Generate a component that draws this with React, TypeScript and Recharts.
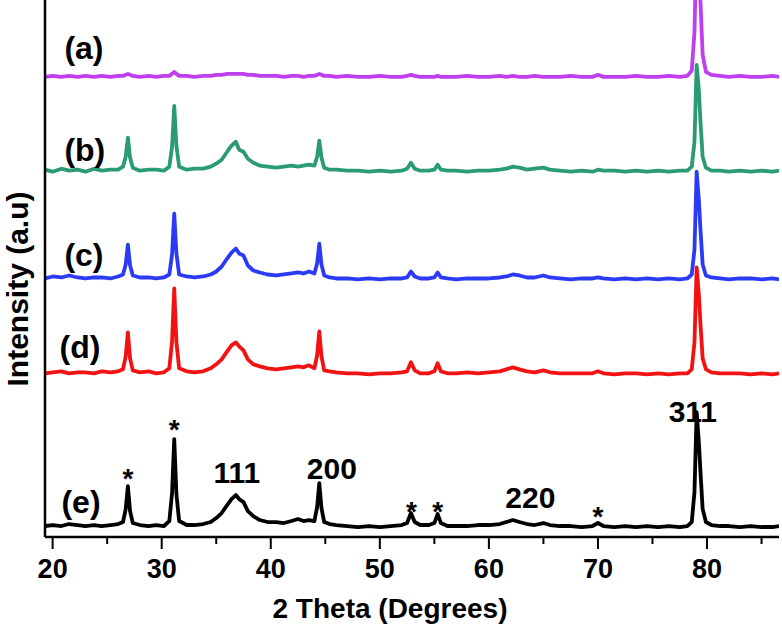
import React from 'react';
import { LineChart, Line, XAxis, YAxis, ReferenceDot, Label } from 'recharts';

// 2θ sample positions (degrees)
const twoTheta = [
  19.3, 20, 20.8, 21.5, 22.3, 23, 23.8, 24.5, 25.3, 26,
  26.45, 26.7, 26.9, 27.1, 27.35,
  28, 28.8, 29.5, 30.2,
  30.7, 30.95, 31.15, 31.35, 31.6,
  32.3, 33, 33.8, 34.5, 35, 35.5, 36,
  36.4, 36.8, 37.1, 37.5, 37.9, 38.4, 39,
  39.7, 40.5, 41.2, 41.9, 42.5, 43, 43.5,
  44, 44.25, 44.45, 44.65, 44.9,
  45.4, 46, 47, 48, 49, 50, 51, 52,
  52.5, 52.85, 53.2, 53.7, 54.5,
  55, 55.3, 55.6, 56.2,
  57, 58, 59, 60, 61,
  61.6, 62.2, 62.8, 63.5, 64.2, 65,
  65.6, 66.5, 67.5, 68.5, 69.5, 70, 70.5,
  71.5, 72.5, 73.5, 74.5, 75.5, 76.5, 77.5, 78.2,
  78.6, 78.85, 79.05, 79.25, 79.4, 79.6, 79.9,
  80.4, 81.2, 82, 83, 84, 85, 86, 86.6,
];

// intensities above each pattern's own baseline (a.u.)
const intensityA = [
  0, 1, 0, 1, 0, 1, 0, 1, 0, 1,
  1, 2, 3, 2, 1,
  0, 1, 0, 1,
  1, 3, 5, 3, 1,
  1, 0, 1, 1, 2, 2, 3,
  3, 3, 3, 3, 2, 2, 1,
  1, 1, 0, 1, 1, 0, 1,
  1, 2, 3, 2, 1,
  1, 0, 1, 0, 0, 1, 0, 0,
  1, 2, 1, 0, 0,
  0, 1, 0, 0,
  0, 1, 0, 0, 1,
  0, 1, 0, 0, 1, 0,
  0, 0, 1, 0, 0, 2, 0,
  0, 0, 1, 0, 0, 1, 0, 1,
  6, 45, 140, 125, 75, 22, 5,
  2, 1, 0, 1, 0, 0, 1, 0,
];

const intensityB = [
  2, 0, 3, 1, 2, 0, 3, 1, 2, 2,
  5, 15, 34, 14, 4,
  1, 2, 2, 1,
  5, 25, 66, 26, 5,
  2, 3, 3, 5, 8, 12, 20,
  26, 30, 22, 20, 13, 9, 6,
  5, 4, 5, 6, 5, 6, 7,
  6, 15, 31, 14, 4,
  2, 2, 1, 1, 0, 1, 0, 1,
  3, 9, 3, 1, 1,
  2, 7, 2, 1,
  1, 0, 1, 1, 2,
  3, 5, 4, 2, 3, 4,
  2, 1, 0, 1, 0, 2, 1,
  1, 0, 1, 0, 1, 0, 1, 1,
  5, 30, 107, 82, 50, 15, 4,
  1, 1, 0, 1, 0, 1, 0, 1,
];

const intensityC = [
  1, 3, 2, 4, 2, 1, 2, 2, 1, 3,
  5, 15, 35, 14, 4,
  2, 2, 1, 2,
  5, 25, 66, 26, 5,
  3, 2, 3, 5, 8, 13, 21,
  27, 31, 26, 24, 14, 9, 7,
  5, 4, 5, 6, 7, 6, 8,
  6, 16, 36, 15, 4,
  2, 1, 1, 0, 1, 0, 1, 1,
  2, 8, 3, 1, 1,
  2, 7, 2, 1,
  0, 1, 1, 1, 2,
  3, 5, 4, 2, 2, 4,
  2, 1, 0, 1, 1, 2, 1,
  0, 1, 0, 1, 0, 1, 0, 1,
  5, 30, 108, 80, 50, 15, 4,
  2, 1, 0, 1, 1, 0, 1, 0,
];

const intensityD = [
  1, 2, 3, 1, 2, 2, 1, 3, 2, 3,
  5, 18, 42, 16, 4,
  2, 3, 1, 2,
  6, 33, 86, 32, 6,
  3, 2, 3, 6, 10, 15, 23,
  29, 32, 28, 24, 15, 10, 8,
  6, 5, 6, 7, 8, 7, 9,
  6, 19, 43, 18, 4,
  3, 2, 1, 1, 0, 1, 1, 2,
  3, 12, 4, 1, 1,
  3, 11, 3, 1,
  1, 2, 1, 2, 3,
  5, 7, 5, 3, 2, 4,
  2, 1, 1, 1, 1, 3, 1,
  0, 1, 1, 0, 1, 0, 1, 1,
  5, 32, 107, 80, 50, 16, 5,
  2, 1, 1, 1, 0, 1, 0, 1,
];

const intensityE = [
  1, 2, 1, 3, 2, 1, 2, 1, 2, 3,
  5, 18, 41, 16, 4,
  2, 1, 2, 1,
  6, 34, 88, 33, 6,
  2, 2, 3, 5, 9, 14, 22,
  28, 32, 28, 25, 16, 11, 7,
  5, 5, 4, 6, 8, 6, 7,
  6, 20, 44, 19, 5,
  3, 2, 1, 0, 1, 0, 1, 2,
  4, 14, 5, 2, 2,
  4, 13, 4, 1,
  1, 1, 2, 2, 3,
  5, 7, 5, 3, 2, 4,
  2, 1, 1, 0, 1, 4, 1,
  0, 1, 0, 1, 0, 1, 0, 1,
  5, 35, 115, 85, 55, 18, 5,
  2, 1, 1, 0, 1, 0, 0, 1,
];

const seriesKeys = ['a', 'b', 'c', 'd', 'e'];
const seriesNames = ['(a)', '(b)', '(c)', '(d)', '(e)'];
const baselineOffsets = [455, 360, 252, 157, 4];
const seriesIntensities = [intensityA, intensityB, intensityC, intensityD, intensityE];
const seriesColors = ['#BF3FEF', '#2A9B74', '#2B3BF5', '#F21212', '#000000'];

const xTicks = [20, 25, 30, 35, 40, 45, 50, 55, 60, 65, 70, 75, 80, 85];
const yTicks = [0, 120, 240, 360, 480];

// annotations (data coordinates of text baselines)
const seriesLabelX = [22.87, 22.95, 22.87, 22.5, 22.6];
const seriesLabelY = [473, 371, 266, 173, 18];
const starX = [26.9, 31.15, 52.9, 55.3, 70];
const starY = [43, 92, 10, 10, 5];
const hklText = ['111', '200', '220', '311'];
const hklX = [36.9, 45.6, 63.8, 78.7];
const hklY = [48, 52, 23, 109];

const data = twoTheta.map((t, i) => {
  const row: Record<string, number> = { t };
  seriesKeys.forEach((k, s) => {
    row[k] = baselineOffsets[s] + seriesIntensities[s][i];
  });
  return row;
});

const FONT = "'Liberation Sans', Arial, Helvetica, sans-serif";

const XTick = (props: any) => {
  const { x, y, payload } = props;
  const major = payload.value % 10 === 0;
  return (
    <g>
      <line x1={x} x2={x} y1={y} y2={y + (major ? 12 : 7)} stroke="#000" strokeWidth={2} />
      {major && (
        <text x={x} y={y + 41} textAnchor="middle" fontFamily={FONT} fontWeight="bold" fontSize={27} fill="#000">
          {payload.value}
        </text>
      )}
    </g>
  );
};

const textShape = (txt: string, size: number) => (p: any) => (
  <text x={p.cx} y={p.cy} textAnchor="middle" fontFamily={FONT} fontWeight="bold" fontSize={size} fill="#000">
    {txt}
  </text>
);

export default function App() {
  return (
    <div style={{ position: 'absolute', left: 0, top: 0, background: '#fff' }}>
      <LineChart width={782} height={631} data={data} margin={{ top: 0, right: 3, bottom: 0, left: 0 }}>
        <XAxis
          dataKey="t"
          type="number"
          domain={[19.3, 86.6]}
          allowDataOverflow
          ticks={xTicks}
          interval={0}
          height={94}
          tickSize={0}
          tickMargin={0}
          tickLine={false}
          axisLine={{ stroke: '#000', strokeWidth: 2.5 }}
          tick={<XTick />}
        >
          <Label
            content={() => (
              <text x={390} y={618} textAnchor="middle" fontFamily={FONT} fontWeight="bold" fontSize={28} fill="#000">
                2 Theta (Degrees)
              </text>
            )}
          />
        </XAxis>
        <YAxis
          type="number"
          domain={[-6, 532]}
          allowDataOverflow
          ticks={yTicks}
          interval={0}
          width={45}
          tickSize={11}
          tick={false}
          tickLine={{ stroke: '#000', strokeWidth: 2 }}
          axisLine={{ stroke: '#000', strokeWidth: 2.5 }}
        >
          <Label
            content={() => (
              <text
                x={28}
                y={289}
                transform="rotate(-90, 28, 289)"
                textAnchor="middle"
                fontFamily={FONT}
                fontWeight="bold"
                fontSize={30}
                fill="#000"
              >
                Intensity (a.u)
              </text>
            )}
          />
        </YAxis>
        {seriesKeys.map((k, s) => (
          <Line
            key={k}
            dataKey={k}
            type="linear"
            stroke={seriesColors[s]}
            strokeWidth={3.8}
            strokeLinejoin="round"
            dot={false}
            activeDot={false}
            isAnimationActive={false}
          />
        ))}
        {seriesNames.map((n, s) => (
          <ReferenceDot key={'sl' + s} x={seriesLabelX[s]} y={seriesLabelY[s]} r={0} ifOverflow="visible" shape={textShape(n, 32)} />
        ))}
        {starX.map((x, s) => (
          <ReferenceDot key={'st' + s} x={x} y={starY[s]} r={0} ifOverflow="visible" shape={textShape('*', 28)} />
        ))}
        {hklText.map((h, s) => (
          <ReferenceDot key={'hk' + s} x={hklX[s]} y={hklY[s]} r={0} ifOverflow="visible" shape={textShape(h, 30)} />
        ))}
      </LineChart>
    </div>
  );
}
